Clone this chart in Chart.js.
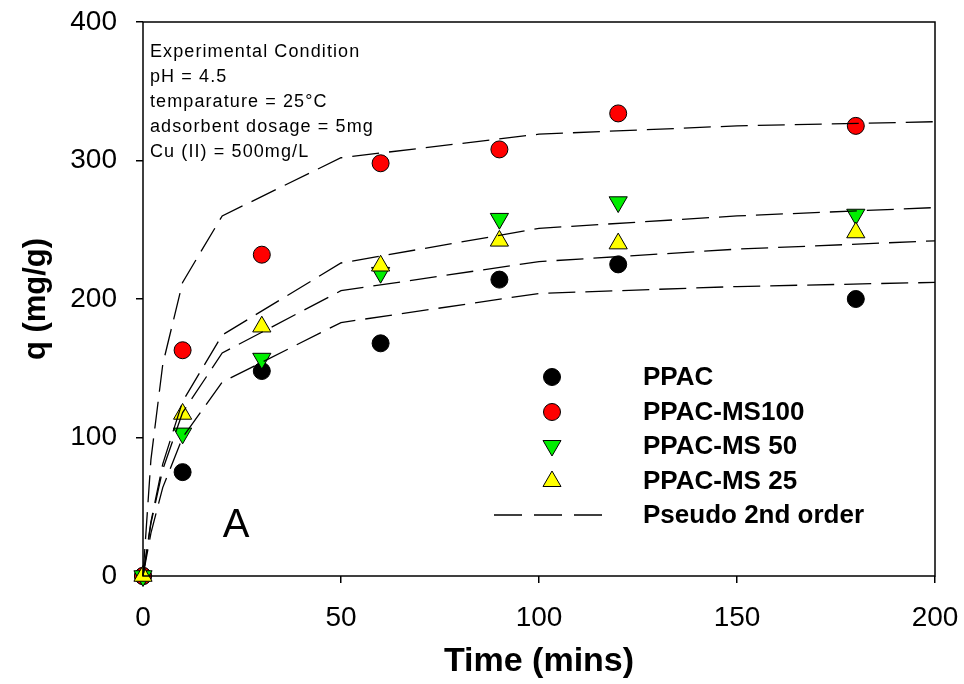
<!DOCTYPE html>
<html>
<head>
<meta charset="utf-8">
<script src="https://cdn.jsdelivr.net/npm/chart.js@4.4.0/dist/chart.umd.min.js"></script>
<style>
  html, body { margin: 0; padding: 0; background: #fff; }
  #wrap { width: 964px; height: 684px; }
</style>
</head>
<body>
<div id="wrap"><canvas id="kinetica"></canvas></div>
<script>
// measured points
const tiempo = [0, 10, 30, 60, 90, 120, 180];
const qPPAC = [0, 75, 148, 168, 214, 225, 200];
const qMS100 = [0, 163, 232, 298, 308, 334, 325];
const qMS50 = [0, 103, 157, 219, 258, 270, 261];
const qMS25 = [0, 117, 180, 224, 242, 240, 248];

// pseudo 2nd order curves
const tFit = [0, 2, 5, 10, 20, 50, 100, 150, 200];
const fitMS100 = [0, 84, 153, 212, 260, 302, 319, 325, 328];
const fitMS50 = [0, 39, 81, 126, 174, 226, 251, 260, 266];
const fitMS25 = [0, 38, 77, 118, 161, 206, 227, 236, 242];
const fitPPAC = [0, 31, 64, 100, 140, 183, 204, 209, 212];

const xTicks = [0, 50, 100, 150, 200];
const yTicks = [0, 100, 200, 300, 400];

const condiciones = ['Experimental Condition', 'pH = 4.5', 'temparature = 25\u00B0C',
  'adsorbent dosage = 5mg', 'Cu (II) = 500mg/L'];
const nombres = ['PPAC', 'PPAC-MS100', 'PPAC-MS 50', 'PPAC-MS 25', 'Pseudo 2nd order'];

const FUENTE = "'Liberation Sans', Arial, sans-serif";
const pares = (xs, ys) => xs.map((x, i) => ({ x: x, y: ys[i] }));

function curva(ys) {
  return {
    data: pares(tFit, ys), showLine: true, pointRadius: 0,
    borderColor: '#000', borderWidth: 1.3, borderDash: [27, 10], fill: false
  };
}
function puntos(ys, fondo, estilo, rot) {
  return {
    data: pares(tiempo, ys), showLine: false, pointStyle: estilo, pointRotation: rot || 0,
    pointRadius: estilo === 'circle' ? 8.5 : 10.5, backgroundColor: fondo, borderColor: '#000',
    pointBorderWidth: 1
  };
}
// no extra room for overhanging tick labels
const sinRelleno = s => { s.paddingTop = 0; s.paddingBottom = 0; s.paddingLeft = 0; s.paddingRight = 0; };

const marco = {
  id: 'marco',
  afterDraw(chart) {
    const c = chart.ctx, a = chart.chartArea;
    c.save();
    c.strokeStyle = '#000';
    c.lineWidth = 1.5;
    c.strokeRect(a.left, a.top, a.right - a.left, a.bottom - a.top);

    c.fillStyle = '#000';
    c.font = '18px ' + FUENTE;
    c.letterSpacing = '1.1px';
    c.textBaseline = 'alphabetic';
    condiciones.forEach((t, i) => c.fillText(t, 150, 57 + i * 25));
    c.letterSpacing = '0px';

    c.font = '40px ' + FUENTE;
    c.textAlign = 'center';
    c.fillText('A', 236, 537);

    // legend
    const mx = 552, fila = [377, 412, 446, 481, 515];
    c.textAlign = 'left';
    c.textBaseline = 'middle';
    c.font = 'bold 26px ' + FUENTE;
    nombres.forEach((t, i) => c.fillText(t, 643, fila[i] + 1));
    c.lineWidth = 1;
    c.beginPath(); c.arc(mx, fila[0], 8.5, 0, Math.PI * 2);
    c.fillStyle = '#000'; c.fill(); c.stroke();
    c.beginPath(); c.arc(mx, fila[1], 8.5, 0, Math.PI * 2);
    c.fillStyle = '#ff0000'; c.fill(); c.stroke();
    const tri = (y, s, col) => {
      c.beginPath();
      c.moveTo(mx, y + s * 10);
      c.lineTo(mx - 9, y - s * 5.5);
      c.lineTo(mx + 9, y - s * 5.5);
      c.closePath();
      c.fillStyle = col; c.fill(); c.stroke();
    };
    tri(fila[2], 1, '#00ee00');
    tri(fila[3], -1, '#ffff00');
    c.lineWidth = 1.3;
    c.setLineDash([28, 12]);
    c.beginPath(); c.moveTo(494, fila[4]); c.lineTo(606, fila[4]); c.stroke();
    c.restore();
  }
};

new Chart(document.getElementById('kinetica').getContext('2d'), {
  type: 'scatter',
  data: {
    datasets: [
      curva(fitMS100), curva(fitMS50), curva(fitMS25), curva(fitPPAC),
      puntos(qMS25, '#ffff00', 'triangle', 0),
      puntos(qMS50, '#00ee00', 'triangle', 180),
      puntos(qMS100, '#ff0000', 'circle'),
      puntos(qPPAC, '#000000', 'circle')
    ]
  },
  options: {
    responsive: true,
    maintainAspectRatio: false,
    animation: false,
    clip: false,
    layout: { padding: { top: 22, right: 29, left: 0, bottom: 0 } },
    plugins: { legend: { display: false }, tooltip: { enabled: false } },
    scales: {
      x: {
        type: 'linear', min: 0, max: 200,
        afterFit: s => { s.height = 108; sinRelleno(s); },
        afterBuildTicks: s => { s.ticks = xTicks.map(v => ({ value: v })); },
        grid: { drawOnChartArea: false, tickLength: 7, color: '#000', lineWidth: 1.5 },
        border: { display: false },
        ticks: { color: '#000', font: { family: FUENTE, size: 28 }, padding: 18, maxRotation: 0 },
        title: { display: true, text: 'Time (mins)', color: '#000',
          font: { family: FUENTE, size: 34, weight: 'bold' }, padding: { bottom: 2 } }
      },
      y: {
        type: 'linear', min: 0, max: 400,
        afterFit: s => { s.width = 143; sinRelleno(s); },
        afterBuildTicks: s => { s.ticks = yTicks.map(v => ({ value: v })); },
        grid: { drawOnChartArea: false, tickLength: 7, color: '#000', lineWidth: 1.5 },
        border: { display: false },
        ticks: { color: '#000', font: { family: FUENTE, size: 28 }, padding: 19 },
        title: { display: true, text: 'q (mg/g)', color: '#000',
          font: { family: FUENTE, size: 31, weight: 'bold' }, padding: { top: 18 } }
      }
    }
  },
  plugins: [marco]
});
</script>
</body>
</html>
